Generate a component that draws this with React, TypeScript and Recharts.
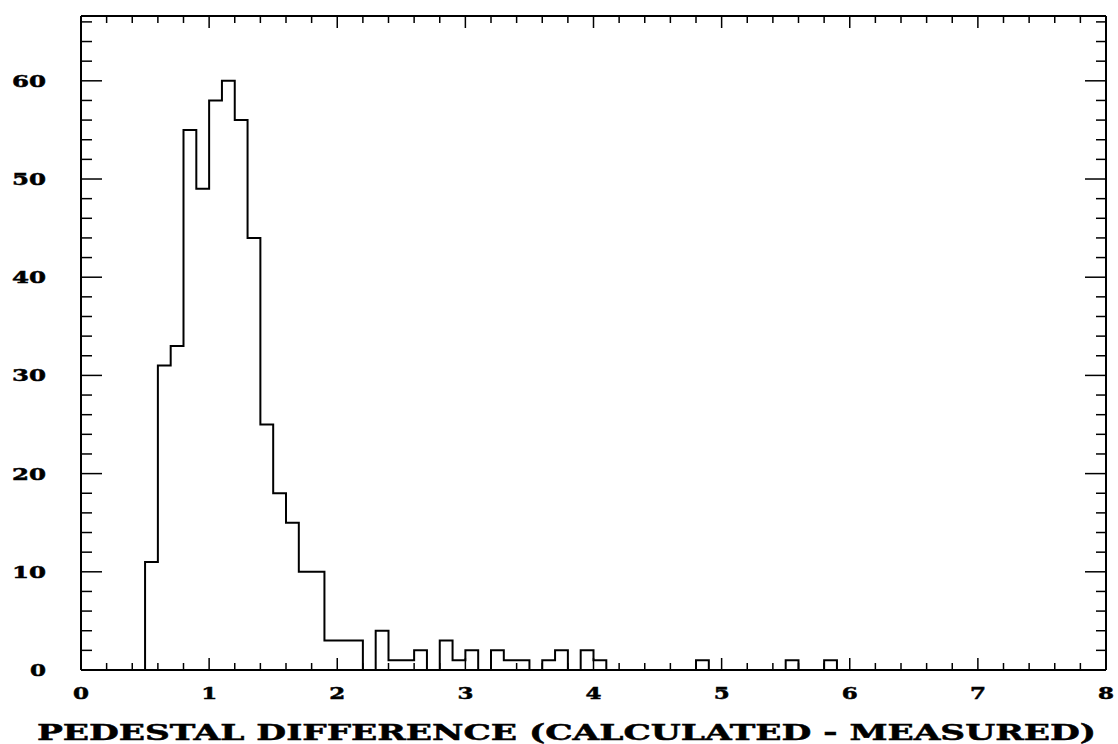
import { ComposedChart, Line, XAxis, YAxis } from 'recharts';

// histogram of pedestal differences, bins of 0.1 starting at 0.5
const binStart = 0.5;
const binWidth = 0.1;
const counts = [
  11, 31, 33, 55, 49, 58, 60, 56, 44, 25,
  18, 15, 10, 10, 3, 3, 3, 0, 4, 1,
  1, 2, 0, 3, 1, 2, 0, 2, 1, 1,
  0, 1, 2, 0, 2, 1, 0, 0, 0, 0,
  0, 0, 0, 1, 0, 0, 0, 0, 0, 0,
  1, 0, 0, 1, 0,
];

const xMajorTicks = [0, 1, 2, 3, 4, 5, 6, 7, 8];
const yMajorTicks = [0, 10, 20, 30, 40, 50, 60];
const xTitle = 'PEDESTAL DIFFERENCE (CALCULATED - MEASURED)';

const xTicks: number[] = [];
for (let i = 0; i <= 40; i++) xTicks.push(Math.round(i * 2) / 10);
const yTicks: number[] = [];
for (let i = 0; i <= 66; i += 2) yTicks.push(i);

const table = [
  { x: 0, count: 0 },
  ...counts.map((c, i) => ({ x: Math.round((binStart + i * binWidth) * 10) / 10, count: c })),
  { x: 8, count: 0 },
];

const FONT = '"DejaVu Serif", serif';

const isMajorX = (v: number) => xMajorTicks.includes(v);
const isMajorY = (v: number) => yMajorTicks.includes(v);

function BottomTick(props: any) {
  const { x, y, payload } = props;
  const v = payload.value;
  const len = isMajorX(v) ? 12 : 7;
  return (
    <g>
      <line x1={x} x2={x} y1={y} y2={y - len} stroke="#000" strokeWidth={1.5} />
      {isMajorX(v) && (
        <text
          x={x}
          y={y + 29}
          textAnchor="middle"
          fontFamily={FONT}
          fontWeight="bold"
          fontSize={17}
          fill="#000"
          stroke="#000"
          strokeWidth={0.5}
          textLength={16}
          lengthAdjust="spacingAndGlyphs"
        >
          {v}
        </text>
      )}
    </g>
  );
}

function TopTick(props: any) {
  const { x, y, payload } = props;
  const len = isMajorX(payload.value) ? 12 : 7;
  return <line x1={x} x2={x} y1={y} y2={y + len} stroke="#000" strokeWidth={1.5} />;
}

function LeftTick(props: any) {
  const { x, y, payload } = props;
  const v = payload.value;
  const len = isMajorY(v) ? 21 : 11;
  const label = String(v);
  return (
    <g>
      <line x1={x} x2={x + len} y1={y} y2={y} stroke="#000" strokeWidth={1.5} />
      {isMajorY(v) && (
        <text
          x={x - 35}
          y={y + 6}
          textAnchor="end"
          fontFamily={FONT}
          fontWeight="bold"
          fontSize={17}
          fill="#000"
          stroke="#000"
          strokeWidth={0.5}
          textLength={16 * label.length + (label.length - 1) * 2}
          lengthAdjust="spacingAndGlyphs"
        >
          {label}
        </text>
      )}
    </g>
  );
}

function RightTick(props: any) {
  const { x, y, payload } = props;
  const len = isMajorY(payload.value) ? 21 : 10;
  return <line x1={x} x2={x - len} y1={y} y2={y} stroke="#000" strokeWidth={1.5} />;
}

function TitleLabel() {
  return (
    <text
      x={37}
      y={740}
      fontFamily={FONT}
      fontWeight="bold"
      fontSize={22}
      fill="#000"
      stroke="#000"
      strokeWidth={0.5}
      textLength={1059}
      lengthAdjust="spacingAndGlyphs"
    >
      {xTitle}
    </text>
  );
}

export default function App() {
  return (
    <div
      style={{
        position: 'fixed',
        top: 0,
        left: 0,
        width: 1118,
        height: 744,
        overflow: 'hidden',
        background: '#fff',
      }}
    >
      <ComposedChart
        width={1118}
        height={744}
        data={table}
        margin={{ top: 0, right: 0, bottom: 0, left: 0 }}
      >
        <XAxis
          xAxisId="bottom"
          dataKey="x"
          type="number"
          domain={[0, 8]}
          ticks={xTicks}
          interval={0}
          height={74}
          tickSize={0}
          tickMargin={0}
          tickLine={false}
          tick={BottomTick}
          axisLine={{ stroke: '#000', strokeWidth: 2 }}
          label={<TitleLabel />}
        />
        <XAxis
          xAxisId="top"
          orientation="top"
          dataKey="x"
          type="number"
          domain={[0, 8]}
          ticks={xTicks}
          interval={0}
          height={16}
          tickSize={0}
          tickMargin={0}
          tickLine={false}
          tick={TopTick}
          axisLine={{ stroke: '#000', strokeWidth: 2 }}
        />
        <YAxis
          yAxisId="left"
          type="number"
          domain={[0, 66.6]}
          ticks={yTicks}
          interval={0}
          width={81}
          tickSize={0}
          tickMargin={0}
          tickLine={false}
          tick={LeftTick}
          axisLine={{ stroke: '#000', strokeWidth: 2 }}
        />
        <YAxis
          yAxisId="right"
          orientation="right"
          type="number"
          domain={[0, 66.6]}
          ticks={yTicks}
          interval={0}
          width={12}
          tickSize={0}
          tickMargin={0}
          tickLine={false}
          tick={RightTick}
          axisLine={{ stroke: '#000', strokeWidth: 2 }}
        />
        <Line
          xAxisId="bottom"
          yAxisId="left"
          dataKey="count"
          type="stepAfter"
          stroke="#000"
          strokeWidth={2}
          dot={false}
          activeDot={false}
          isAnimationActive={false}
        />
        <Line
          xAxisId="top"
          yAxisId="right"
          dataKey="count"
          stroke="none"
          dot={false}
          activeDot={false}
          isAnimationActive={false}
        />
      </ComposedChart>
    </div>
  );
}
